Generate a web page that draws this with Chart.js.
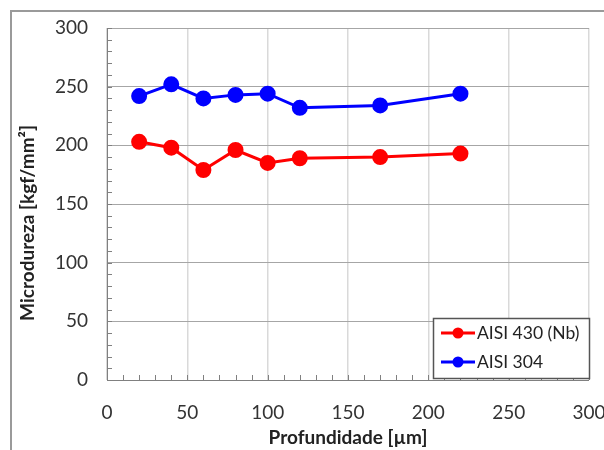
<!DOCTYPE html>
<html><head><meta charset="utf-8">
<script src="https://cdn.jsdelivr.net/npm/chart.js@4/dist/chart.umd.min.js"></script>
<style>html,body{margin:0;padding:0;background:#fff;}#wrap{width:604px;height:450px;position:relative;}</style>
</head><body><div id="wrap"><canvas id="c" width="604" height="450"></canvas></div>
<script>
const depth = [20, 40, 60, 80, 100, 120, 170, 220];
const aisi430 = [203, 198, 179, 196, 185, 189, 190, 193];
const aisi304 = [242, 252, 240, 243, 244, 232, 234, 244];
const seriesNames = ['AISI 430 (Nb)', 'AISI 304'];
const xTitle = 'Profundidade [µm]';
const yTitle = 'Microdureza [kgf/mm²]';
const FONT = 'Lato, "Liberation Sans", sans-serif';

const decor = {
  id: 'decor',
  beforeDraw(chart) {
    const ctx = chart.ctx;
    ctx.save();
    ctx.fillStyle = '#fff';
    ctx.fillRect(0, 0, chart.width, chart.height);
    ctx.strokeStyle = '#9a9a9a';
    ctx.lineWidth = 2;
    ctx.strokeRect(11, 11, 700, 500);
    ctx.restore();
  },
  afterDraw(chart) {
    const ctx = chart.ctx;
    const xs = chart.scales.x, ys = chart.scales.y;
    const a = chart.chartArea;
    ctx.save();
    ctx.strokeStyle = '#808080';
    ctx.lineWidth = 1;
    ctx.beginPath();
    ctx.moveTo(a.left + 0.5, a.top); ctx.lineTo(a.left + 0.5, a.bottom + 0.5);
    ctx.lineTo(a.right, a.bottom + 0.5);
    ctx.stroke();
    ctx.beginPath();
    for (let v = 0; v <= 300; v += 10) {
      const py = Math.round(ys.getPixelForValue(v)) + 0.5;
      ctx.moveTo(a.left, py); ctx.lineTo(a.left + 5, py);
      const px = Math.round(xs.getPixelForValue(v)) + 0.5;
      ctx.moveTo(px, a.bottom); ctx.lineTo(px, a.bottom - 5);
    }
    ctx.stroke();
    ctx.translate(28, 223);
    ctx.rotate(-Math.PI / 2);
    ctx.fillStyle = '#222';
    ctx.font = 'bold 19px ' + FONT;
    ctx.textAlign = 'center';
    ctx.textBaseline = 'middle';
    ctx.fillText(yTitle, 0, 0);
    ctx.restore();
    ctx.save();
    const lx = 433, ly = 318, lw = 156, lh = 60;
    ctx.fillStyle = '#fff';
    ctx.fillRect(lx, ly, lw, lh);
    ctx.strokeStyle = '#555';
    ctx.lineWidth = 1.5;
    ctx.strokeRect(lx + 0.5, ly + 0.5, lw, lh);
    chart.data.datasets.forEach((ds, i) => {
      const cy = ly + 15 + i * 29;
      ctx.strokeStyle = ds.borderColor;
      ctx.lineWidth = 3;
      ctx.beginPath(); ctx.moveTo(441, cy); ctx.lineTo(475, cy); ctx.stroke();
      ctx.fillStyle = ds.backgroundColor;
      ctx.beginPath(); ctx.arc(458, cy, 5.5, 0, Math.PI * 2); ctx.fill();
      ctx.fillStyle = '#222';
      ctx.font = '17.5px ' + FONT;
      ctx.textAlign = 'left';
      ctx.textBaseline = 'middle';
      ctx.fillText(ds.label, 477, cy);
    });
    ctx.restore();
  }
};

new Chart(document.getElementById('c'), {
  type: 'line',
  data: {
    datasets: [
      { label: seriesNames[0], data: depth.map((d, i) => ({x: d, y: aisi430[i]})),
        borderColor: '#ff0000', backgroundColor: '#ff0000', borderWidth: 3,
        pointRadius: 6.5, pointHoverRadius: 6.5, tension: 0 },
      { label: seriesNames[1], data: depth.map((d, i) => ({x: d, y: aisi304[i]})),
        borderColor: '#0000ff', backgroundColor: '#0000ff', borderWidth: 3,
        pointRadius: 6.5, pointHoverRadius: 6.5, tension: 0 }
    ]
  },
  options: {
    responsive: false,
    animation: false,
    devicePixelRatio: 1,
    layout: { padding: { left: 0, right: 15, top: 28, bottom: 0 } },
    plugins: { legend: { display: false }, tooltip: { enabled: false } },
    scales: {
      x: {
        type: 'linear', min: 0, max: 300,
        ticks: { stepSize: 50, color: '#333', font: { family: FONT, size: 19 }, padding: 21, maxRotation: 0 },
        grid: { color: '#d9d9d9', lineWidth: 1.5, drawTicks: false },
        border: { display: false },
        title: { display: true, text: xTitle, color: '#222', font: { family: FONT, size: 19, weight: 'bold' }, padding: { top: 0, bottom: 1 } },
        afterFit(s) { s.height = 70; s.paddingLeft = 0; s.paddingRight = 0; }
      },
      y: {
        min: 0, max: 300,
        ticks: { stepSize: 50, color: '#333', font: { family: FONT, size: 19 }, padding: 19 },
        grid: { color: '#a6a6a6', lineWidth: 1, drawTicks: false },
        border: { display: false },
        afterFit(s) { s.width = 107; s.paddingTop = 0; s.paddingBottom = 0; }
      }
    }
  },
  plugins: [decor]
});
</script>
</body></html>
